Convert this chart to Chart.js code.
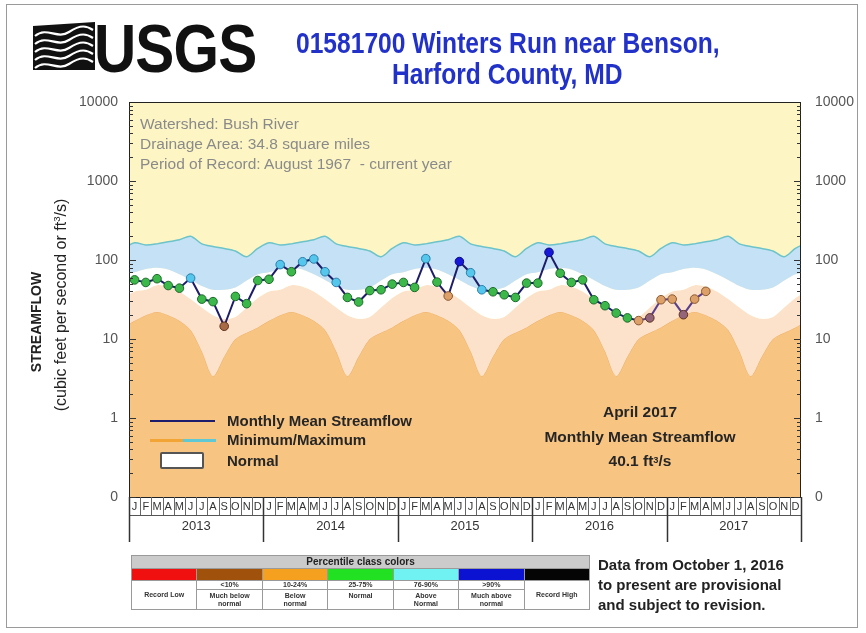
<!DOCTYPE html>
<html><head><meta charset="utf-8">
<script src="https://cdn.jsdelivr.net/npm/chart.js@4.4.1/dist/chart.umd.min.js"></script>
<style>
html,body{margin:0;padding:0;background:#fff;}
#wrap{position:relative;width:866px;height:633px;overflow:hidden;font-family:"Liberation Sans",Arial,sans-serif;}
#c{position:absolute;left:0;top:0;}
.ov{position:absolute;white-space:nowrap;pointer-events:none;}
#frame{position:absolute;left:6px;top:4px;width:852px;height:624px;border:1px solid #9a9a9a;box-sizing:border-box;}
.usgs{left:94px;top:14px;font-size:68px;font-weight:bold;color:#111;line-height:68px;transform:scaleX(0.86);transform-origin:0 0;letter-spacing:-1px;}
.t1{left:296px;top:27px;font-size:30px;line-height:31px;font-weight:bold;color:#2232c8;transform:scaleX(0.82);transform-origin:0 0;}
.t2{left:392px;top:58px;font-size:30px;line-height:31px;font-weight:bold;color:#2232c8;transform:scaleX(0.82);transform-origin:0 0;}
.info{left:140px;font-size:15.5px;color:#8a8a8a;line-height:18px;}
.leg{left:227px;font-size:15px;font-weight:bold;color:#262626;line-height:18px;}
.ann{left:530px;width:220px;text-align:center;font-size:15.5px;font-weight:bold;color:#262626;line-height:18px;}
.yt1{left:36px;top:322px;font-size:14px;font-weight:bold;color:#222;transform:translate(-50%,-50%) rotate(-90deg);}
.yt2{left:61px;top:305px;font-size:16px;color:#222;transform:translate(-50%,-50%) rotate(-90deg);}
sup{font-size:0.6em;vertical-align:top;position:relative;top:-1px;}
#tbl{position:absolute;left:131px;top:555px;border-collapse:collapse;width:459px;table-layout:fixed;}
#tbl td{border:1px solid #9a9a9a;padding:0;text-align:center;font-size:7px;font-weight:bold;color:#333;line-height:8px;}
#tbl .hd{background:#cbcbcb;font-size:10px;height:12px;line-height:12px;color:#222;}
#tbl .col td{height:11px;}
.note{left:598px;top:555px;font-size:15px;font-weight:bold;color:#222;line-height:20px;}
</style></head><body>
<div id="wrap">
<canvas id="c" width="866" height="633"></canvas>
<div id="frame"></div>
<svg class="ov" style="left:33px;top:22px" width="62" height="48" viewBox="0 0 62 48">
  <path d="M0 4 L62 0 L62 48 L0 48 Z" fill="#111"/>
  <path d="M2 14 C14 4,24 18,36 10 S54 4,60 8" stroke="#fff" stroke-width="2.2" fill="none"/>
  <path d="M2 22 C14 12,24 26,36 18 S54 12,60 16" stroke="#fff" stroke-width="2.2" fill="none"/>
  <path d="M2 30 C14 20,24 34,36 26 S54 20,60 24" stroke="#fff" stroke-width="2.2" fill="none"/>
  <path d="M2 38 C14 28,24 42,36 34 S54 28,60 32" stroke="#fff" stroke-width="2.2" fill="none"/>
  <path d="M2 46 C14 36,24 50,36 42 S54 36,60 40" stroke="#fff" stroke-width="2.2" fill="none"/>
</svg>
<div class="ov usgs">USGS</div>
<div class="ov t1">01581700 Winters Run near Benson,</div>
<div class="ov t2">Harford County, MD</div>
<div class="ov info" style="top:115px">Watershed: Bush River</div>
<div class="ov info" style="top:135px">Drainage Area: 34.8 square miles</div>
<div class="ov info" style="top:155px">Period of Record: August 1967&nbsp; - current year</div>
<div class="ov" style="left:150px;top:420px;width:65px;height:2px;background:#1d1d6b"></div>
<div class="ov" style="left:150px;top:439px;width:33px;height:3px;background:#f2a435"></div>
<div class="ov" style="left:183px;top:439px;width:33px;height:3px;background:#5fc8d2"></div>
<div class="ov" style="left:160px;top:452px;width:44px;height:17px;background:#fff;border:2px solid #555;border-radius:2px;box-sizing:border-box"></div>
<div class="ov leg" style="top:412px">Monthly Mean Streamflow</div>
<div class="ov leg" style="top:431px">Minimum/Maximum</div>
<div class="ov leg" style="top:452px">Normal</div>
<div class="ov ann" style="top:403px">April 2017</div>
<div class="ov ann" style="top:428px">Monthly Mean Streamflow</div>
<div class="ov ann" style="top:452px">40.1 ft<sup>3</sup>/s</div>
<div class="ov yt1">STREAMFLOW</div>
<div class="ov yt2">(cubic feet per second or ft<sup>3</sup>/s)</div>
<table id="tbl">
<tr><td class="hd" colspan="7">Percentile class colors</td></tr>
<tr class="col"><td style="background:#f01010"></td><td style="background:#a0520c"></td><td style="background:#f6a020"></td><td style="background:#22e022"></td><td style="background:#70f2f2"></td><td style="background:#0c12d2"></td><td style="background:#050505"></td></tr>
<tr><td rowspan="2">Record Low</td><td>&lt;10%</td><td>10-24%</td><td>25-75%</td><td>76-90%</td><td>&gt;90%</td><td rowspan="2">Record High</td></tr>
<tr><td style="height:19px">Much below<br>normal</td><td>Below<br>normal</td><td>Normal<br>&nbsp;</td><td>Above<br>Normal</td><td>Much above<br>normal</td></tr>
</table>
<div class="ov note">Data from October 1, 2016<br>to present are provisional<br>and subject to revision.</div>
</div>
<script>
// ---- data ----
const months = ['J','F','M','A','M','J','J','A','S','O','N','D'];
const years = ['2013','2014','2015','2016','2017'];
const yTickValues = [0.1, 1, 10, 100, 1000, 10000];
const yTickLabels = ['0', '1', '10', '100', '1000', '10000'];
// monthly mean streamflow, Jan 2013 .. Apr 2017 (ft3/s)
const monthlyMean = [
  56, 52, 58, 47.5, 44, 59, 32, 29.7, 14.5, 34.6, 28, 55,
  57, 87.5, 71, 95, 103, 71, 52, 33.6, 29.4, 41, 42, 49.5,
  52, 45, 104, 52.5, 35, 95.5, 69, 42, 39.6, 36.3, 33.6, 51,
  51, 125, 68, 52, 56, 31.4, 26.4, 21.3, 18.5, 17.1, 18.5, 31.4,
  32, 20.3, 32, 40.1
];
// percentile class of each month: MB much below, B below, N normal, AN above, MA much above
const pctClass = [
  'N','N','N','N','N','AN','N','N','MB','N','N','N',
  'N','AN','N','AN','AN','AN','AN','N','N','N','N','N',
  'N','N','AN','N','B','MA','AN','AN','N','N','N','N',
  'N','MA','N','N','N','N','N','N','N','B','MB','B',
  'B','MB','B','B'
];
const provisionalFrom = 45; // October 2016
// seasonal envelope by calendar month (Jan..Dec)
const maxFlow = [165, 155, 160, 170, 180, 200, 160, 148, 140, 130, 110, 140];
const p75Flow = [70, 77, 80, 76, 66, 56, 47, 42, 42, 45, 55, 66];
const p25Flow = [40, 42, 48, 46, 40, 32, 25, 20, 18, 19, 25, 33];
const minFlow = [17, 20, 22, 20, 17, 13, 7, 3.4, 6, 10, 12, 14];

const nMonths = years.length * 12;
function envelope(arr){
  const out = [];
  for (let m = -1; m <= nMonths; m++) out.push({x: m + 0.5, y: arr[(m + 12) % 12]});
  return out;
}
const classFill = {MB:'#a86b45', B:'#dca068', N:'#3cb84a', AN:'#55c6ec', MA:'#1818d8'};
const classBorder = {MB:'#5e3420', B:'#8a5a30', N:'#1b6b28', AN:'#2a7fa8', MA:'#0a0a80'};
const ptFill = pctClass.map((c,i)=> (i>=provisionalFrom && c==='MB') ? '#94647a' : classFill[c]);
const ptBorder = pctClass.map(c=>classBorder[c]);

const decor = {
  id:'decor',
  beforeDatasetsDraw(chart){
    const a = chart.chartArea, ctx = chart.ctx;
    ctx.save(); ctx.fillStyle = '#fdf6c4';
    ctx.fillRect(a.left, a.top, a.right-a.left, a.bottom-a.top); ctx.restore();
  },
  afterDraw(chart){
    const a = chart.chartArea, ctx = chart.ctx, ys = chart.scales.y, xs = chart.scales.x;
    ctx.save();
    ctx.strokeStyle = '#222'; ctx.lineWidth = 1;
    ctx.strokeRect(a.left+0.5, a.top+0.5, a.right-a.left-1, a.bottom-a.top);
    ctx.strokeStyle = '#333';
    for (let d = -1; d <= 3; d++) {
      for (let k = 1; k <= 9; k++) {
        const v = k * Math.pow(10, d);
        const y = Math.round(ys.getPixelForValue(v)) + 0.5;
        const len = k === 1 ? 7 : 4;
        ctx.beginPath();
        ctx.moveTo(a.left, y); ctx.lineTo(a.left + len, y);
        ctx.moveTo(a.right, y); ctx.lineTo(a.right - len, y);
        ctx.stroke();
      }
    }
    const rowB = a.bottom + 18;
    ctx.strokeStyle = '#555';
    ctx.beginPath(); ctx.moveTo(a.left, rowB + 0.5); ctx.lineTo(a.right, rowB + 0.5); ctx.stroke();
    for (let i = 0; i <= nMonths; i++) {
      const x = Math.round(xs.getPixelForValue(i)) + 0.5;
      ctx.beginPath();
      if (i % 12 === 0) { ctx.strokeStyle = '#333'; ctx.lineWidth = 1.5; ctx.moveTo(x, a.bottom); ctx.lineTo(x, a.bottom + 45); }
      else { ctx.strokeStyle = '#666'; ctx.lineWidth = 1; ctx.moveTo(x, a.bottom); ctx.lineTo(x, rowB); }
      ctx.stroke();
    }
    ctx.restore();
  }
};

const bandBase = {pointRadius:0, tension:0.3, borderWidth:0};
new Chart(document.getElementById('c'), {
  type:'line',
  data:{datasets:[
    {data: monthlyMean.map((v,i)=>({x:i+0.5, y:v})), order:0,
     borderColor:'#1d1d6b', borderWidth:2, tension:0, fill:false,
     pointRadius:4.3, pointBorderWidth:1, pointBackgroundColor:ptFill, pointBorderColor:ptBorder,
     segment:{borderColor: c => c.p0DataIndex >= provisionalFrom ? '#5b3f8f' : '#1d1d6b'}},
    Object.assign({}, bandBase, {data: envelope(minFlow), order:4, fill:'start', backgroundColor:'#f8c482', borderColor:'#eeae62', borderWidth:1}),
    Object.assign({}, bandBase, {data: envelope(p25Flow), order:3, fill:1, backgroundColor:'#fde2cb'}),
    Object.assign({}, bandBase, {data: envelope(p75Flow), order:2, fill:2, backgroundColor:'#ffffff'}),
    Object.assign({}, bandBase, {data: envelope(maxFlow), order:1, fill:3, backgroundColor:'#c4e1f5', borderColor:'#6cc3c9', borderWidth:1.5})
  ]},
  options:{
    responsive:false, animation:false, events:[],
    layout:{padding:{left:0,right:0,top:102,bottom:0}},
    plugins:{legend:{display:false}, tooltip:{enabled:false}},
    scales:{
      y:{type:'logarithmic', position:'left', min:0.1, max:10000,
         afterFit(s){ s.width = 129; },
         afterBuildTicks(s){ s.ticks = yTickValues.map(v=>({value:v})); },
         grid:{display:false, drawTicks:false}, border:{display:false},
         ticks:{padding:11, color:'#555', font:{size:14}, callback:(v)=>{const i=yTickValues.indexOf(v); return i>=0?yTickLabels[i]:'';}}},
      yR:{type:'logarithmic', position:'right', min:0.1, max:10000,
         afterFit(s){ s.width = 65; },
         afterBuildTicks(s){ s.ticks = yTickValues.map(v=>({value:v})); },
         grid:{display:false, drawTicks:false}, border:{display:false},
         ticks:{padding:14, color:'#555', font:{size:14}, callback:(v)=>{const i=yTickValues.indexOf(v); return i>=0?yTickLabels[i]:'';}}},
      x:{type:'linear', position:'bottom', min:0, max:nMonths, weight:0,
         afterFit(s){ s.height = 18; },
         afterBuildTicks(s){ s.ticks = Array.from({length:nMonths},(_, i)=>({value:i+0.5})); },
         grid:{display:false, drawTicks:false}, border:{display:false},
         ticks:{padding:3, color:'#333', font:{size:11}, maxRotation:0, autoSkip:false,
                callback:(v)=>months[Math.floor(v)%12]}},
      xYear:{type:'linear', position:'bottom', min:0, max:nMonths, weight:1,
         afterFit(s){ s.height = 118; },
         afterBuildTicks(s){ s.ticks = years.map((_, k)=>({value:k*12+6})); },
         grid:{display:false, drawTicks:false}, border:{display:false},
         ticks:{padding:4, color:'#333', font:{size:13}, maxRotation:0, autoSkip:false,
                callback:(v)=>years[Math.round((v-6)/12)]}}
    }
  },
  plugins:[decor]
});
</script>
</body></html>
